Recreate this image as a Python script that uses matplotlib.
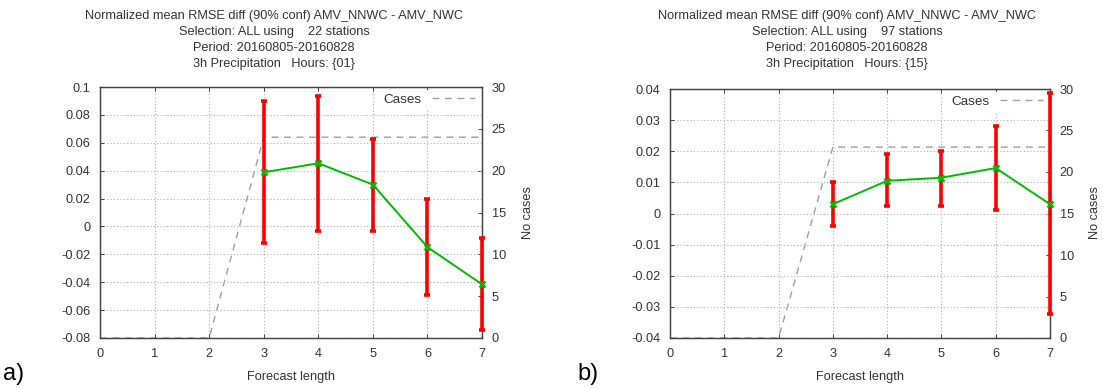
import matplotlib
matplotlib.use("Agg")
import matplotlib.pyplot as plt
from matplotlib.lines import Line2D

plt.rcParams['font.family'] = ['Liberation Sans', 'DejaVu Sans']

# ---- data ----
lead = [3, 4, 5, 6, 7]
cases_x = [0, 1, 2, 3, 4, 5, 6, 7]

a_mean = [0.0388, 0.0453, 0.0300, -0.0148, -0.0415]
a_lo = [-0.0121, -0.0033, -0.0033, -0.0492, -0.0745]
a_hi = [0.0897, 0.0933, 0.0629, 0.0199, -0.0083]
a_cases = [0, 0, 0, 24, 24, 24, 24, 24]
a_title = ["Normalized mean RMSE diff (90% conf) AMV_NNWC - AMV_NWC",
           "Selection: ALL using    22 stations",
           "Period: 20160805-20160828",
           "3h Precipitation   Hours: {01}"]
a_yticks = [-0.08, -0.06, -0.04, -0.02, 0, 0.02, 0.04, 0.06, 0.08, 0.1]
a_ylabels = ["-0.08", "-0.06", "-0.04", "-0.02", "0", "0.02", "0.04", "0.06", "0.08", "0.1"]

b_mean = [0.0030, 0.0105, 0.0115, 0.0146, 0.0030]
b_lo = [-0.0041, 0.0025, 0.0025, 0.0012, -0.0322]
b_hi = [0.0102, 0.0191, 0.0202, 0.0280, 0.0386]
b_cases = [0, 0, 0, 23, 23, 23, 23, 23]
b_title = ["Normalized mean RMSE diff (90% conf) AMV_NNWC - AMV_NWC",
           "Selection: ALL using    97 stations",
           "Period: 20160805-20160828",
           "3h Precipitation   Hours: {15}"]
b_yticks = [-0.04, -0.03, -0.02, -0.01, 0, 0.01, 0.02, 0.03, 0.04]
b_ylabels = ["-0.04", "-0.03", "-0.02", "-0.01", "0", "0.01", "0.02", "0.03", "0.04"]

xticks = [0, 1, 2, 3, 4, 5, 6, 7]
y2ticks = [0, 5, 10, 15, 20, 25, 30]

TXT = '#333333'
FS = 9.2
GREEN = '#00bb00'
RED = '#ff0000'
GRAY = '#a0a0a0'

fig = plt.figure(figsize=(11.03, 3.88), dpi=100)


def panel(rect, mean, lo, hi, cases, title, yticks, ylabels, title_x, letter, letter_x,
          ylab_x):
    ax = fig.add_axes(rect)
    ax2 = ax.twinx()
    ax.set_zorder(ax2.get_zorder() + 1)
    ax.patch.set_visible(False)

    ax2.plot(cases_x, cases, color=GRAY, lw=1.0, ls=(0, (5, 4)), zorder=2)
    ax2.set_ylim(0, 30)
    ax2.set_yticks(y2ticks)
    ax2.set_yticklabels([str(t) for t in y2ticks])
    fig.text(ylab_x / 1103.0, 1 - 213 / 388.0, "No cases", rotation=90,
             ha='center', va='center', color=TXT, fontsize=FS)

    yerr = [[m - l for m, l in zip(mean, lo)], [h - m for m, h in zip(mean, hi)]]
    ax.errorbar(lead, mean, yerr=yerr, fmt='none', ecolor=RED, elinewidth=2.6,
                capsize=2.5, capthick=2.6, zorder=3, clip_on=False)
    ax.plot(lead, mean, color=GREEN, lw=1.4, marker='x', ms=5, mew=1.8,
            zorder=4, clip_on=False)

    ax.set_xlim(0, 7)
    ax.set_ylim(yticks[0], yticks[-1])
    ax.set_xticks(xticks)
    ax.set_xticklabels([str(t) for t in xticks])
    ax.set_yticks(yticks)
    ax.set_yticklabels(ylabels)
    ax.grid(True, color='#b0b0b0', ls=(0, (1, 2)), lw=0.8)
    ax.set_xlabel("Forecast length", color=TXT, fontsize=FS, labelpad=8)

    for a in (ax, ax2):
        for s in a.spines.values():
            s.set_color('#444444')
            s.set_linewidth(0.9)
        a.tick_params(direction='in', length=3, width=0.7, color='#444444',
                      labelcolor=TXT, labelsize=FS, pad=7)
    ax.tick_params(axis='x', top=True)
    ax.tick_params(axis='y', right=False)

    h = Line2D([0], [0], color=GRAY, lw=1.0, ls=(0, (5, 4)))
    leg = ax.legend([h], ["Cases"], loc='upper right', frameon=True,
                    fontsize=FS + 0.5, markerfirst=False, handlelength=3.2,
                    borderaxespad=0.2, borderpad=0.3, handletextpad=0.8)
    leg.get_frame().set_facecolor('white')
    leg.get_frame().set_edgecolor('none')
    leg.get_frame().set_alpha(1.0)
    for t in leg.get_texts():
        t.set_color(TXT)
    leg.set_zorder(10)

    for i, line in enumerate(title):
        fig.text(title_x / 1103.0, 1 - (16 + 16 * i) / 388.0, line, ha='center',
                 va='center', color=TXT, fontsize=FS)
    fig.text(letter_x / 1103.0, 1 - 374 / 388.0, letter, ha='left', va='center',
             color='black', fontsize=17)


panel([100 / 1103, 50 / 388, 382 / 1103, 251 / 388], a_mean, a_lo, a_hi, a_cases,
      a_title, a_yticks, a_ylabels, 274, "a)", 3, 528)
panel([670 / 1103, 50 / 388, 380 / 1103, 249 / 388], b_mean, b_lo, b_hi, b_cases,
      b_title, b_yticks, b_ylabels, 847, "b)", 577, 1095)

fig.savefig("out.png", dpi=100)
